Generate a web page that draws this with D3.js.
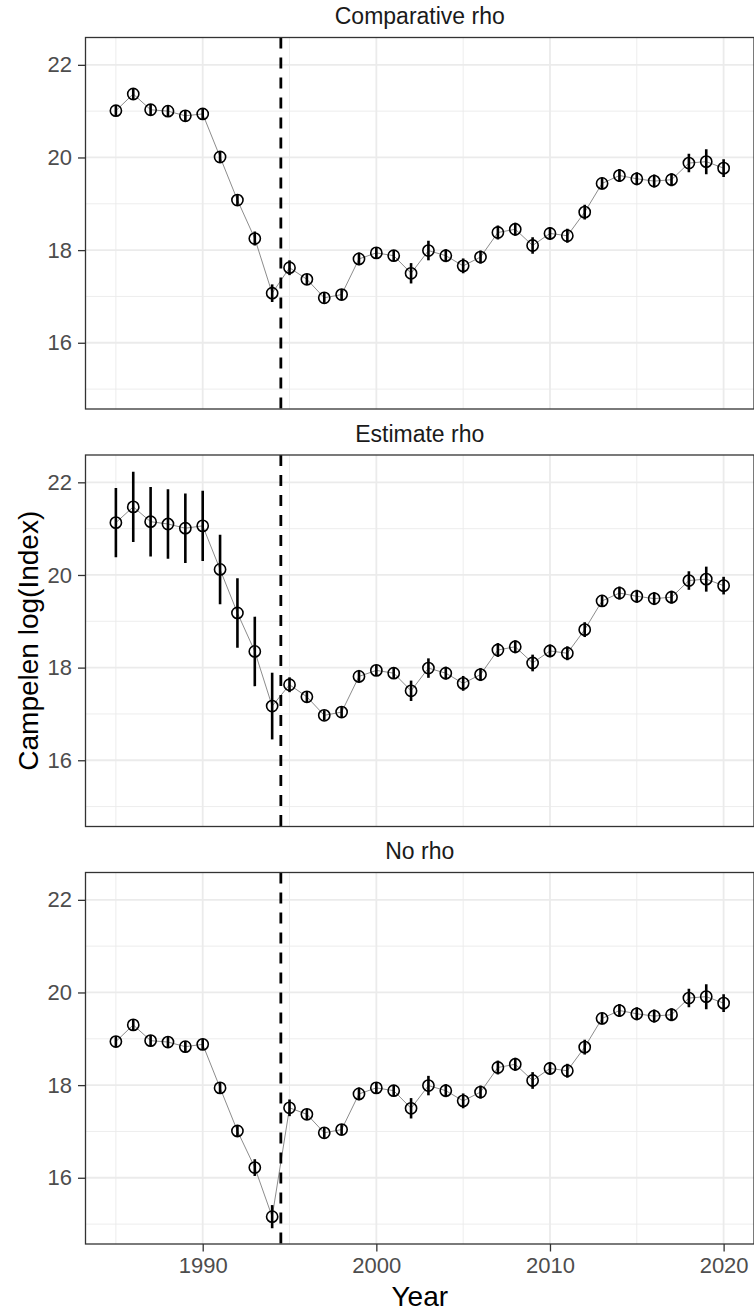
<!DOCTYPE html>
<html>
<head>
<meta charset="utf-8">
<script src="https://cdn.jsdelivr.net/npm/d3@7"></script>
<style>
  body { margin: 0; background: #fff; }
  svg { display: block; }
  text { font-family: "Liberation Sans", Arial, Helvetica, sans-serif; }
</style>
</head>
<body>
<svg id="chart" width="754" height="1314"></svg>
<script>
// Survey years
const years = [1985, 1986, 1987, 1988, 1989, 1990, 1991, 1992, 1993, 1994,
               1995, 1996, 1997, 1998, 1999, 2000, 2001, 2002, 2003, 2004,
               2005, 2006, 2007, 2008, 2009, 2010, 2011, 2012, 2013, 2014,
               2015, 2016, 2017, 2018, 2019, 2020];

// Panel titles (one facet each)
const panelTitles = ["Comparative rho", "Estimate rho", "No rho"];

// Campelen log(Index) estimates and interval half-widths, per facet
const comparativeIndex = [21.01, 21.37, 21.03, 21.00, 20.90, 20.94, 20.01, 19.08, 18.25, 17.07,
                          17.62, 17.37, 16.97, 17.04, 17.81, 17.94, 17.88, 17.50, 17.99, 17.88,
                          17.66, 17.85, 18.38, 18.45, 18.10, 18.36, 18.31, 18.82, 19.44, 19.61,
                          19.54, 19.49, 19.52, 19.88, 19.91, 19.77];
const comparativeErr   = [0.12, 0.12, 0.12, 0.12, 0.12, 0.12, 0.12, 0.12, 0.15, 0.19,
                          0.16, 0.12, 0.11, 0.12, 0.14, 0.12, 0.12, 0.22, 0.21, 0.14,
                          0.16, 0.14, 0.15, 0.14, 0.18, 0.14, 0.15, 0.16, 0.13, 0.14,
                          0.14, 0.14, 0.14, 0.20, 0.27, 0.19];

const estimateIndex    = [21.13, 21.47, 21.15, 21.10, 21.01, 21.06, 20.12, 19.18, 18.35, 17.17,
                          17.63, 17.37, 16.97, 17.04, 17.81, 17.94, 17.88, 17.50, 17.99, 17.88,
                          17.66, 17.85, 18.38, 18.45, 18.10, 18.36, 18.31, 18.82, 19.44, 19.61,
                          19.54, 19.49, 19.52, 19.88, 19.91, 19.77];
const estimateErr      = [0.75, 0.76, 0.75, 0.75, 0.75, 0.76, 0.75, 0.75, 0.75, 0.72,
                          0.16, 0.12, 0.11, 0.12, 0.14, 0.12, 0.12, 0.22, 0.21, 0.14,
                          0.16, 0.14, 0.15, 0.14, 0.18, 0.14, 0.15, 0.16, 0.13, 0.14,
                          0.14, 0.14, 0.14, 0.20, 0.27, 0.19];

const noRhoIndex       = [18.94, 19.30, 18.96, 18.93, 18.83, 18.88, 17.94, 17.01, 16.22, 15.16,
                          17.51, 17.37, 16.97, 17.04, 17.81, 17.94, 17.88, 17.50, 17.99, 17.88,
                          17.66, 17.85, 18.38, 18.45, 18.10, 18.36, 18.31, 18.82, 19.44, 19.61,
                          19.54, 19.49, 19.52, 19.88, 19.91, 19.77];
const noRhoErr         = [0.12, 0.12, 0.12, 0.12, 0.12, 0.12, 0.12, 0.13, 0.18, 0.25,
                          0.18, 0.12, 0.11, 0.12, 0.14, 0.12, 0.12, 0.22, 0.21, 0.14,
                          0.16, 0.14, 0.15, 0.14, 0.18, 0.14, 0.15, 0.16, 0.13, 0.14,
                          0.14, 0.14, 0.14, 0.20, 0.27, 0.19];

// Axis breaks
const yTicks = [16, 18, 20, 22];
const yMinorTicks = [15, 17, 19, 21];
const xTicks = [1990, 2000, 2010, 2020];
const xMinorTicks = [1985, 1995, 2005, 2015];

// Vertical reference line between 1994 and 1995
const breakYear = 1994.5;

const panelMeans = [comparativeIndex, estimateIndex, noRhoIndex];
const panelErrs = [comparativeErr, estimateErr, noRhoErr];

// Layout
const W = 754, H = 1314;
const left = 85.5, right = 754;
const firstTop = 37.5, panelH = 371.5, panelGap = 46;

const svg = d3.select("#chart");

const x = d3.scaleLinear().domain([1983.25, 2021.75]).range([left, right]);

panelTitles.forEach((title, p) => {
  const top = firstTop + p * (panelH + panelGap);
  const bottom = top + panelH;
  const y = d3.scaleLinear().domain([14.57, 22.59]).range([bottom, top]);
  const data = years.map((yr, i) => ({ year: yr, v: panelMeans[p][i], e: panelErrs[p][i] }));

  const g = svg.append("g");

  // clip to panel
  const clipId = "clip" + p;
  svg.append("clipPath").attr("id", clipId)
    .append("rect").attr("x", left).attr("y", top).attr("width", right - left).attr("height", panelH);

  const pg = g.append("g").attr("clip-path", `url(#${clipId})`);

  // minor grid
  pg.selectAll(".hmin").data(yMinorTicks).join("line")
    .attr("x1", left).attr("x2", right)
    .attr("y1", d => y(d)).attr("y2", d => y(d))
    .attr("stroke", "#EBEBEB").attr("stroke-width", 0.9);
  pg.selectAll(".vmin").data(xMinorTicks).join("line")
    .attr("y1", top).attr("y2", bottom)
    .attr("x1", d => x(d)).attr("x2", d => x(d))
    .attr("stroke", "#EBEBEB").attr("stroke-width", 0.9);
  // major grid
  pg.selectAll(".hmaj").data(yTicks).join("line")
    .attr("x1", left).attr("x2", right)
    .attr("y1", d => y(d)).attr("y2", d => y(d))
    .attr("stroke", "#EBEBEB").attr("stroke-width", 1.8);
  pg.selectAll(".vmaj").data(xTicks).join("line")
    .attr("y1", top).attr("y2", bottom)
    .attr("x1", d => x(d)).attr("x2", d => x(d))
    .attr("stroke", "#EBEBEB").attr("stroke-width", 1.8);

  // connecting line
  pg.append("path").datum(data)
    .attr("fill", "none").attr("stroke", "#7F7F7F").attr("stroke-width", 0.9)
    .attr("d", d3.line().x(d => x(d.year)).y(d => y(d.v)));

  // intervals
  pg.selectAll(".err").data(data).join("line")
    .attr("x1", d => x(d.year)).attr("x2", d => x(d.year))
    .attr("y1", d => y(d.v - d.e)).attr("y2", d => y(d.v + d.e))
    .attr("stroke", "#000").attr("stroke-width", 2.6);

  // points (open circles)
  pg.selectAll(".pt").data(data).join("circle")
    .attr("cx", d => x(d.year)).attr("cy", d => y(d.v))
    .attr("r", 5.6)
    .attr("fill", "none").attr("stroke", "#000").attr("stroke-width", 1.6);

  // dashed reference line
  pg.append("line")
    .attr("x1", x(breakYear)).attr("x2", x(breakYear))
    .attr("y1", top).attr("y2", bottom)
    .attr("stroke", "#000").attr("stroke-width", 2.8)
    .attr("stroke-dasharray", "11,9");

  // panel border
  g.append("rect")
    .attr("x", left).attr("y", top).attr("width", right - left).attr("height", panelH)
    .attr("fill", "none").attr("stroke", "#333333").attr("stroke-width", 1.3);

  // y axis
  const yAxis = d3.axisLeft(y).tickValues(yTicks).tickSize(7.5).tickPadding(6).tickFormat(d3.format("d"));
  const ya = g.append("g").attr("transform", `translate(${left},0)`).call(yAxis);
  ya.select(".domain").remove();
  ya.selectAll(".tick line").attr("stroke", "#333333").attr("stroke-width", 1.3);
  ya.selectAll(".tick text").attr("fill", "#4D4D4D").style("font-size", "22px")
    .attr("font-family", null);

  // strip title
  g.append("text")
    .attr("x", (left + right) / 2).attr("y", top - 13.5)
    .attr("text-anchor", "middle")
    .attr("fill", "#1A1A1A").style("font-size", "23px")
    .text(title);

  // x axis on bottom panel only
  if (p === panelTitles.length - 1) {
    const xAxis = d3.axisBottom(x).tickValues(xTicks).tickSize(7.5).tickPadding(6).tickFormat(d3.format("d"));
    const xa = g.append("g").attr("transform", `translate(0,${bottom})`).call(xAxis);
    xa.select(".domain").remove();
    xa.selectAll(".tick line").attr("stroke", "#333333").attr("stroke-width", 1.3);
    xa.selectAll(".tick text").attr("fill", "#4D4D4D").style("font-size", "22px")
      .attr("font-family", null);
  }
});

// axis titles
svg.append("text")
  .attr("x", (left + right) / 2).attr("y", 1306)
  .attr("text-anchor", "middle").attr("fill", "#000")
  .style("font-size", "28px")
  .text("Year");

svg.append("text")
  .attr("transform", `translate(38,${(firstTop + 2 * (panelH + panelGap) + panelH + firstTop) / 2}) rotate(-90)`)
  .attr("text-anchor", "middle").attr("fill", "#000")
  .style("font-size", "28px")
  .text("Campelen log(Index)");
</script>
</body>
</html>
